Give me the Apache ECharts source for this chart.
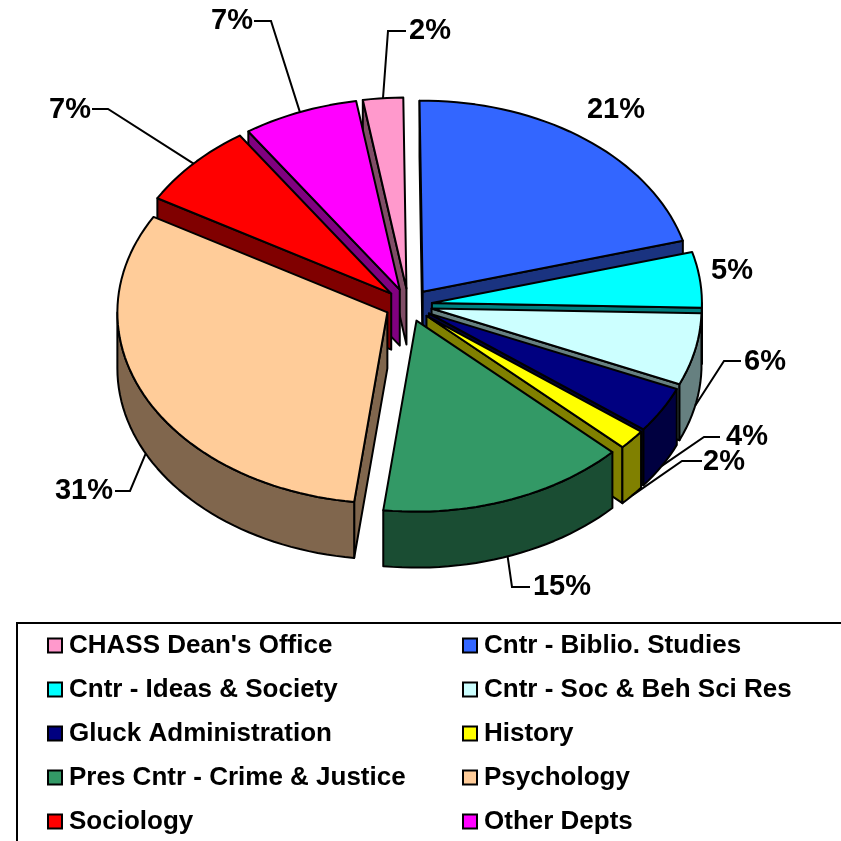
<!DOCTYPE html>
<html>
<head>
<meta charset="utf-8">
<title>Pie</title>
<style>
  html, body { margin: 0; padding: 0; background: #fff; }
  #chart { width: 841px; height: 841px; }
</style>
<script src="https://cdn.jsdelivr.net/npm/echarts@6/dist/echarts.min.js"></script>
</head>
<body>
<div id="chart"></div>
<script>
const categories = ["CHASS Dean's Office", 'Cntr - Biblio. Studies', 'Cntr - Ideas & Society', 'Cntr - Soc & Beh Sci Res',
  'Gluck Administration', 'History', 'Pres Cntr - Crime & Justice', 'Psychology', 'Sociology', 'Other Depts'];
// the labels round these
const shares = [2.4, 20.9, 4.7, 6.1, 3.9, 1.7, 14.9, 31.4, 7.2, 6.9];
const colors = ['#ff99cc', '#3366ff', '#00ffff', '#ccffff', '#000080', '#ffff00', '#339966', '#ffcc99', '#ff0000', '#ff00ff'];

// pie projection, in px
const cx = 408.5, cy = 305;
const rx = 270, ry = 191;
const explodeX = 23.6, explodeY = 16.6;
const depth = 56;
const firstAngle = -9.3;

// back to front
const drawOrder = [0, 9, 8, 1, 2, 3, 4, 5, 6, 7];

// label centre, then elbow of the leader line and where it leaves the text
const labelPlaces = [
  { x: 430, y: 31, from: [406, 31], elbow: [388, 31] },
  { x: 616, y: 110 },
  { x: 732, y: 271 },
  { x: 765, y: 362, from: [741, 361], elbow: [724, 361] },
  { x: 747, y: 437, from: [720, 437], elbow: [704, 437] },
  { x: 724, y: 462, from: [702, 461], elbow: [682, 461] },
  { x: 562, y: 587, from: [530, 587], elbow: [512, 587] },
  { x: 84, y: 491, from: [115, 491], elbow: [130, 491] },
  { x: 70, y: 110, from: [92, 109], elbow: [108, 109] },
  { x: 232, y: 21, from: [254, 21], elbow: [271, 21] }
];

const total = shares.reduce((a, b) => a + b, 0);
const startAngles = [];
shares.reduce((acc, v, i) => {
  startAngles[i] = acc;
  return acc + v / total * 360;
}, firstAngle);

const rad = d => d * Math.PI / 180;

const shade = hex => {
  const n = parseInt(hex.slice(1), 16);
  const half = v => Math.round(v / 2);
  return `rgb(${half(n >> 16)},${half((n >> 8) & 255)},${half(n & 255)})`;
};

const sliceGeom = i => {
  const a0 = startAngles[i];
  const a1 = a0 + shares[i] / total * 360;
  const mid = (a0 + a1) / 2;
  const ax = cx + explodeX * Math.sin(rad(mid));
  const ay = cy - explodeY * Math.cos(rad(mid));
  const at = a => [ax + rx * Math.sin(rad(a)), ay - ry * Math.cos(rad(a))];
  return { a0, a1, mid, ax, ay, at };
};

const arcPoints = (at, from, to) => {
  const pts = [];
  const n = Math.max(2, Math.ceil((to - from) / 2));
  for (let k = 0; k <= n; k++) pts.push(at(from + (to - from) * k / n));
  return pts;
};

const down = p => [p[0], p[1] + depth];

const poly = (points, fill) => ({
  type: 'polygon',
  shape: { points },
  style: { fill, stroke: '#000', lineWidth: 2, lineJoin: 'round' }
});

const renderSlice = i => () => {
  const { a0, a1, ax, ay, at } = sliceGeom(i);
  const side = shade(colors[i]);
  const children = [];
  const apex = [ax, ay];

  // radial walls, only when they face the viewer
  if (Math.sin(rad(a0)) < 0) {
    children.push(poly([apex, at(a0), down(at(a0)), down(apex)], side));
  }
  if (Math.sin(rad(a1)) > 0) {
    children.push(poly([apex, at(a1), down(at(a1)), down(apex)], side));
  }
  // outer wall on the front half of the rim
  const from = Math.max(a0, 90);
  const to = Math.min(a1, 270);
  if (to > from) {
    const rim = arcPoints(at, from, to);
    children.push(poly(rim.concat(rim.map(down).reverse()), side));
  }
  // top
  children.push(poly([apex].concat(arcPoints(at, a0, a1)), colors[i]));
  return { type: 'group', children };
};

const renderLabels = () => {
  const children = [];
  shares.forEach((v, i) => {
    const place = labelPlaces[i];
    if (place.elbow) {
      const { mid, at } = sliceGeom(i);
      const rimPoint = at(mid);
      const end = mid > 90 && mid < 270 ? down(rimPoint) : rimPoint;
      children.push({
        type: 'polyline',
        shape: { points: [place.from, place.elbow, end] },
        style: { fill: 'none', stroke: '#000', lineWidth: 2 }
      });
    }
    children.push({
      type: 'text',
      style: {
        x: place.x, y: place.y, text: Math.round(v) + '%',
        fill: '#000', align: 'center', verticalAlign: 'middle',
        font: 'bold 29px "Liberation Sans", Arial, sans-serif'
      }
    });
  });
  return { type: 'group', children };
};

const series = drawOrder.map(i => ({
  name: categories[i],
  type: 'custom',
  coordinateSystem: 'none',
  renderItem: renderSlice(i),
  itemStyle: { color: colors[i] },
  silent: true,
  animation: false,
  data: [[shares[i]]]
}));
series.push({
  name: 'labels',
  type: 'custom',
  coordinateSystem: 'none',
  renderItem: renderLabels,
  silent: true,
  animation: false,
  data: [[0]]
});

const legendData = col => categories
  .map((name, i) => ({ name, i }))
  .filter(d => d.i % 2 === col)
  .map(d => ({
    name: d.name,
    icon: 'rect',
    itemStyle: { color: colors[d.i], borderColor: '#000', borderWidth: 2, opacity: 1 }
  }));

const legendBase = {
  orient: 'vertical',
  top: 631,
  itemWidth: 14,
  itemHeight: 14,
  itemGap: 15,
  selectedMode: false,
  textStyle: {
    color: '#000',
    fontFamily: '"Liberation Sans", Arial, sans-serif',
    fontWeight: 'bold',
    fontSize: 26,
    lineHeight: 29,
    padding: [0, 0, 0, 2]
  },
  padding: 0
};

const chart = echarts.init(document.getElementById('chart'), null, { renderer: 'canvas' });
chart.setOption({
  backgroundColor: '#fff',
  animation: false,
  legend: [
    Object.assign({}, legendBase, { left: 47, data: legendData(0) }),
    Object.assign({}, legendBase, { left: 462, data: legendData(1) })
  ],
  graphic: [{
    type: 'rect',
    silent: true,
    shape: { x: 17, y: 623, width: 840, height: 240 },
    style: { fill: 'none', stroke: '#000', lineWidth: 2 }
  }],
  series
});
</script>
</body>
</html>
